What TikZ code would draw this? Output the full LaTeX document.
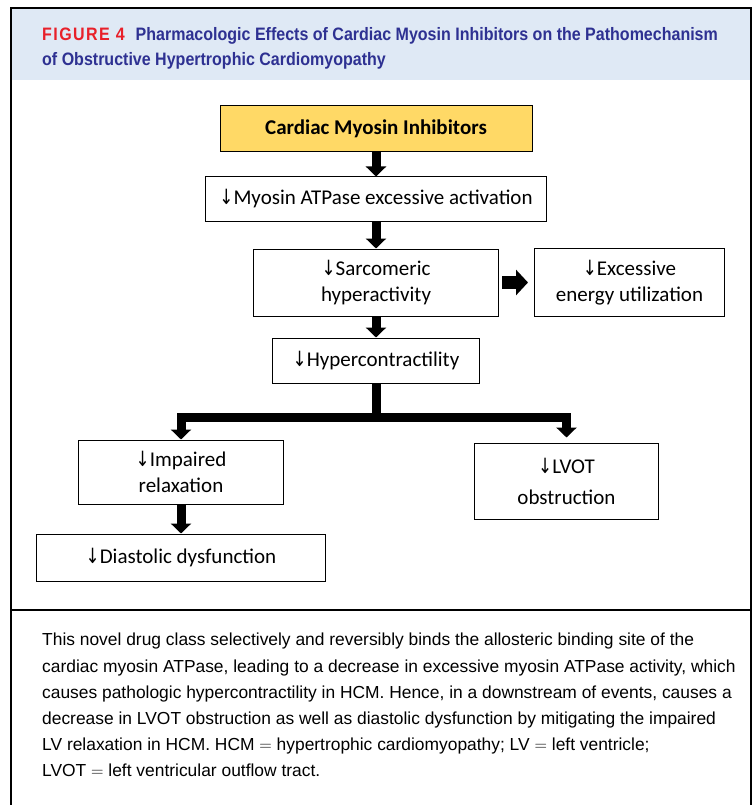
\documentclass[tikz,border=0pt]{standalone}
\usepackage{fontspec}
\setmainfont{Carlito}
\newfontfamily\headfont[FakeStretch=0.89]{Liberation Sans}
\newfontfamily\capfont{Liberation Sans}
\newfontfamily\dnfont{DejaVu Sans}
\usepackage{tikz}
\usetikzlibrary{
	arrows.meta,
	positioning
}
\definecolor{headblue}{HTML}{DFE9F5}
\definecolor{titleblue}{HTML}{2E3192}
\definecolor{figred}{HTML}{E8202A}
\definecolor{drugyellow}{HTML}{FFD966}
\newcommand{\dn}{{\dnfont\scalebox{0.8}[1]{↓}}}

\begin{document}
\begin{tikzpicture}[
				x=1pt, y=-1pt,
				box/.style={
					rectangle, draw, line width=1pt,
					inner sep=2pt, align=center, fill=white,
					font=\fontsize{21}{26}\selectfont
				},
				yellowbox/.style={
					box, fill=drugyellow, font=\fontsize{21}{26}\selectfont\bfseries
				},
				arrow/.style={line width=9pt, -{Triangle[length=10pt,width=20pt]}},
				sidearrow/.style={line width=13pt, -{Triangle[length=12pt,width=25pt]}},
				]
				\useasboundingbox (0,0) rectangle (755,805);
				
				%header
				\fill[headblue] (11,8) rectangle (751,80);
				\draw[line width=1.5pt] (11,805) -- (11,8) -- (751,8) -- (751,805);
				\draw[line width=1.2pt] (11,610) -- (751,610);
				\node[anchor=north west, inner sep=0pt, align=left, text=titleblue,
					font=\headfont\bfseries\fontsize{18}{25}\selectfont] (title) at (42,27)
					{{\color{figred}\addfontfeature{LetterSpace=8}FIGURE 4}\hspace{11pt}Pharmacologic Effects of Cardiac Myosin Inhibitors on the Pathomechanism\\
					of Obstructive Hypertrophic Cardiomyopathy};
				
				%first set
				\node[yellowbox, minimum width=312pt, minimum height=46pt] (cmi) at (376,129) {Cardiac Myosin Inhibitors};
				\node[box, below=24pt of cmi, minimum width=341pt, minimum height=44pt] (atp) {\dn Myosin ATPase excessive activation};
				\draw[arrow] (cmi.south) -- (cmi.south |- atp.north);
				
				%2. set
				\node[box, below=27pt of atp, minimum width=245pt, minimum height=67pt] (sarc) {\dn Sarcomeric\\hyperactivity};
				\draw[arrow] (atp.south) -- (atp.south |- sarc.north);
				\node[box, right=35pt of sarc, minimum width=190pt, minimum height=68pt] (energy) {\dn Excessive\\energy utilization};
				\draw[sidearrow] ([xshift=3pt]sarc.east) -- ([xshift=-6pt]energy.west |- sarc.east);
				
				%3. set
				\node[box, below=21pt of sarc, minimum width=207pt, minimum height=45pt] (hyper) {\dn Hypercontractility};
				\draw[arrow] (sarc.south) -- (sarc.south |- hyper.north);
				
				%4. set
				\node[box, below=56pt of hyper, xshift=-195pt, minimum width=205pt, minimum height=64pt] (impaired) {\dn Impaired\\relaxation};
				\node[box, right=190pt of impaired, yshift=-9pt, minimum width=184pt, minimum height=76pt] (lvot) {\dn LVOT\\[5pt]obstruction};
				\draw[arrow] (hyper.south) -- ++(0,34) -| (impaired.north);
				\draw[arrow, shorten >=5pt] (hyper.south) -- ++(0,34) -| (lvot.north);
				
				%5. set
				\node[box, below=29pt of impaired, minimum width=289pt, minimum height=47pt] (diast) {\dn Diastolic dysfunction};
				\draw[arrow] (impaired.south) -- (impaired.south |- diast.north);
				
				%legend
				\node[anchor=north west, inner sep=0pt, align=left,
					font=\capfont\fontsize{17.4}{26.2}\selectfont] (legend) at (42,633)
					{This novel drug class selectively and reversibly binds the allosteric binding site of the\\
					cardiac myosin ATPase, leading to a decrease in excessive myosin ATPase activity, which\\
					causes pathologic hypercontractility in HCM. Hence, in a downstream of events, causes a\\
					decrease in LVOT obstruction as well as diastolic dysfunction by mitigating the impaired\\
					LV relaxation in HCM. HCM $=$ hypertrophic cardiomyopathy; LV $=$ left ventricle;\\
					LVOT $=$ left ventricular outflow tract.};
			\end{tikzpicture}
\end{document}
